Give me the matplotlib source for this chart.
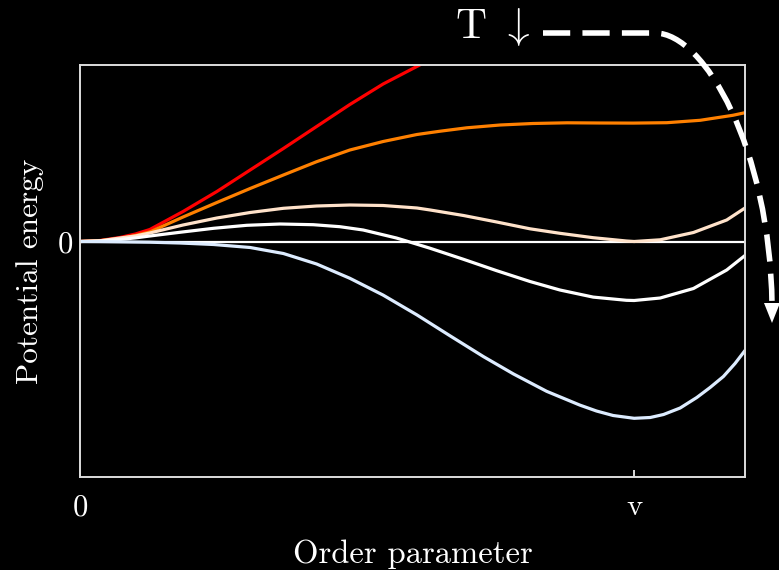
import matplotlib
matplotlib.use("Agg")
import matplotlib.pyplot as plt
import matplotlib.transforms as mtransforms
from matplotlib.path import Path
from matplotlib.patches import PathPatch, Polygon

# curve samples (x in units of v, y in arbitrary energy units)
x_red = [0, 0.036, 0.072, 0.100, 0.126, 0.186, 0.247, 0.307, 0.367, 0.427, 0.487, 0.547, 0.613, 0.625]
y_red = [0, 0.01, 0.04, 0.075, 0.12, 0.30, 0.50, 0.715, 0.93, 1.15, 1.37, 1.575, 1.765, 1.80]

x_orange = [0, 0.036, 0.072, 0.100, 0.126, 0.186, 0.247, 0.307, 0.367, 0.427, 0.487, 0.547,
            0.608, 0.650, 0.698, 0.758, 0.817, 0.879, 0.938, 0.998, 1.059, 1.119, 1.178, 1.20]
y_orange = [0, 0.008, 0.03, 0.06, 0.095, 0.245, 0.39, 0.53, 0.665, 0.798, 0.915, 1.0,
            1.07, 1.103, 1.137, 1.165, 1.18, 1.187, 1.185, 1.184, 1.188, 1.212, 1.262, 1.288]

x_peach = [0, 0.036, 0.072, 0.100, 0.126, 0.186, 0.247, 0.307, 0.367, 0.427, 0.487, 0.547,
           0.608, 0.632, 0.692, 0.752, 0.812, 0.866, 0.926, 0.986, 1.0, 1.047, 1.107, 1.167, 1.20]
y_peach = [0, 0.007, 0.035, 0.055, 0.085, 0.165, 0.235, 0.29, 0.332, 0.355, 0.365, 0.36,
           0.335, 0.315, 0.26, 0.195, 0.127, 0.082, 0.038, 0.005, 0.0, 0.017, 0.09, 0.215, 0.335]

x_white = [0, 0.036, 0.072, 0.100, 0.126, 0.180, 0.241, 0.301, 0.361, 0.421, 0.469, 0.511,
           0.571, 0.595, 0.632, 0.692, 0.752, 0.812, 0.866, 0.926, 0.986, 1.0, 1.047, 1.107,
           1.167, 1.20]
y_white = [0, 0.005, 0.02, 0.036, 0.055, 0.092, 0.132, 0.162, 0.175, 0.168, 0.148, 0.115,
           0.035, -0.005, -0.068, -0.178, -0.292, -0.40, -0.485, -0.556, -0.588, -0.59,
           -0.565, -0.47, -0.285, -0.14]

x_blue = [0, 0.036, 0.126, 0.180, 0.241, 0.307, 0.367, 0.427, 0.487, 0.547, 0.608, 0.668,
          0.728, 0.782, 0.842, 0.902, 0.932, 0.962, 1.0, 1.029, 1.053, 1.083, 1.113, 1.137,
          1.161, 1.182, 1.20]
y_blue = [0, -0.001, -0.007, -0.015, -0.03, -0.06, -0.12, -0.225, -0.368, -0.536, -0.734,
          -0.944, -1.151, -1.324, -1.498, -1.636, -1.695, -1.74, -1.768, -1.76, -1.73,
          -1.665, -1.56, -1.46, -1.35, -1.22, -1.09]

curves = [(x_red, y_red, "#ff0000"), (x_orange, y_orange, "#ff8000"),
          (x_peach, y_peach, "#ffe2ca"), (x_white, y_white, "#ffffff"),
          (x_blue, y_blue, "#ddecff")]

xtick_pos = [0, 1]
xtick_lab = ["0", "v"]

plt.rcParams["font.family"] = "serif"
plt.rcParams["font.serif"] = ["cmr10"]
plt.rcParams["mathtext.fontset"] = "cm"
plt.rcParams["axes.formatter.use_mathtext"] = True

fig = plt.figure(figsize=(7.79, 5.70), dpi=100, facecolor="black")
ax = fig.add_axes([80/779, 1-477/570, 665/779, 412/570], facecolor="black")

ax.axhline(0, color="white", lw=1.6, zorder=1)
for xs, ys, c in curves:
    ax.plot(xs, ys, color=c, lw=2.3, zorder=2, solid_joinstyle="round")

ax.set_xlim(0, 1.2)
ax.set_ylim(-2.355, 1.765)

for s in ax.spines.values():
    s.set_color("#dddddd")
    s.set_linewidth(1.4)

ax.set_xticks(xtick_pos)
ax.set_xticklabels(xtick_lab)
ax.set_yticks([0])
ax.set_yticklabels(["0"])
ax.tick_params(axis="x", direction="in", length=5, width=1.2, color="white",
               labelcolor="white", labelsize=22, pad=12)
ax.tick_params(axis="y", direction="in", length=5, width=1.2, color="white",
               labelcolor="white", labelsize=22, pad=5)

ax.set_xlabel("Order parameter", color="white", fontsize=23.5, labelpad=13)
ax.set_ylabel("Potential energy", color="white", fontsize=22.5, labelpad=10)

# temperature arrow, drawn in pixel coordinates of the figure
pix = mtransforms.Affine2D().scale(1/779, -1/570).translate(0, 1) + fig.transFigure
fig.text(493, 27, r"T $\downarrow$", transform=pix, color="white", fontsize=31,
         ha="center", va="center")
arrow_path = Path([(543, 33), (655, 33), (705, 33), (770, 150), (772, 304)],
                  [Path.MOVETO, Path.LINETO, Path.CURVE4, Path.CURVE4, Path.CURVE4])
fig.add_artist(PathPatch(arrow_path, transform=pix, fill=False, edgecolor="white",
                         lw=4, linestyle=(0, (4.9, 2.2)), capstyle="butt"))
fig.add_artist(Polygon([(764, 303), (780, 303), (772, 323)], closed=True, transform=pix,
                       facecolor="white", edgecolor="none"))

fig.savefig("out.png", dpi=100, facecolor="black")
